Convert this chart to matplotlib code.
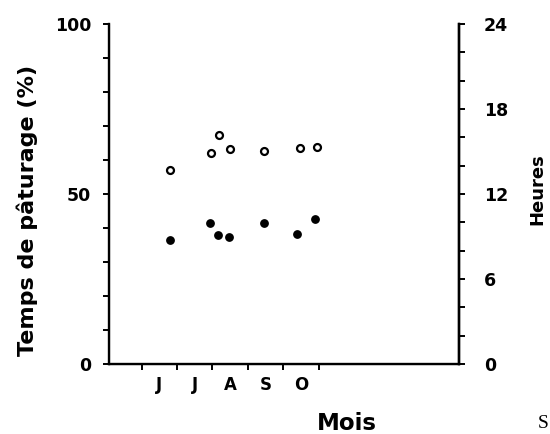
import matplotlib
matplotlib.use("Agg")
import matplotlib.pyplot as plt
from matplotlib.ticker import MultipleLocator, FixedLocator

plt.rcParams["font.family"] = ["DejaVu Sans"]
plt.rcParams["font.weight"] = "bold"

# x = month number (6 = 1 June)
month_ticks = [6, 7, 8, 9, 10, 11]
month_labels = ["J", "J", "A", "S", "O"]
month_label_pos = [6.5, 7.5, 8.5, 9.5, 10.5]

x_open = [6.80, 7.97, 8.20, 8.49, 9.45, 10.49, 10.97]
y_open = [57.0, 62.1, 67.4, 63.2, 62.6, 63.6, 63.7]

x_filled = [6.80, 7.92, 8.15, 8.47, 9.45, 10.39, 10.89]
y_filled = [36.4, 41.6, 38.0, 37.4, 41.4, 38.2, 42.6]

fig = plt.figure(figsize=(5.5, 4.34), dpi=100)
ax = fig.add_axes([109 / 550, 70 / 434, 350 / 550, 340 / 434])

ax.plot(x_open, y_open, "o", ms=5, mfc="white", mec="black", mew=1.6)
ax.plot(x_filled, y_filled, "o", ms=5.3, mfc="black", mec="black")

ax.set_xlim(5.08, 14.97)
ax.set_ylim(0, 100)

ax.spines["top"].set_visible(False)
for s in ["left", "bottom", "right"]:
    ax.spines[s].set_linewidth(1.7)

ax.xaxis.set_major_locator(FixedLocator(month_ticks))
ax.xaxis.set_minor_locator(FixedLocator(month_label_pos))
ax.set_xticklabels([""] * len(month_ticks))
ax.set_xticklabels(month_labels, minor=True)
ax.tick_params(axis="x", which="major", direction="out", length=4, width=1.4)
ax.tick_params(axis="x", which="minor", length=0, pad=9, labelsize=12)

ax.yaxis.set_major_locator(FixedLocator([0, 50, 100]))
ax.yaxis.set_minor_locator(MultipleLocator(10))
ax.tick_params(axis="y", which="both", direction="out", length=4, width=1.4)
ax.tick_params(axis="y", which="major", pad=9, labelsize=12.5)

ax2 = ax.twinx()
ax2.set_ylim(0, 24)
ax2.spines["top"].set_visible(False)
ax2.spines["right"].set_linewidth(1.7)
ax2.yaxis.set_major_locator(FixedLocator([0, 6, 12, 18, 24]))
ax2.yaxis.set_minor_locator(MultipleLocator(2))
ax2.tick_params(axis="y", which="both", direction="out", length=4, width=1.4)
ax2.tick_params(axis="y", which="major", pad=14, labelsize=12.5)

ax.text(-0.234, 0.453, "Temps de pâturage (%)", transform=ax.transAxes,
        rotation=90, ha="center", va="center", fontsize=16, fontweight="bold")
ax.text(1.223, 0.515, "Heures", transform=ax.transAxes,
        rotation=90, ha="center", va="center", fontsize=13, fontweight="bold")
ax.text(0.68, -0.174, "Mois", transform=ax.transAxes,
        ha="center", va="center", fontsize=16.5, fontweight="bold")
fig.text(543 / 550, 10 / 434, "S", family="Liberation Serif", fontweight="normal",
         fontsize=14, ha="center", va="center")

fig.savefig("out.png", dpi=100)
